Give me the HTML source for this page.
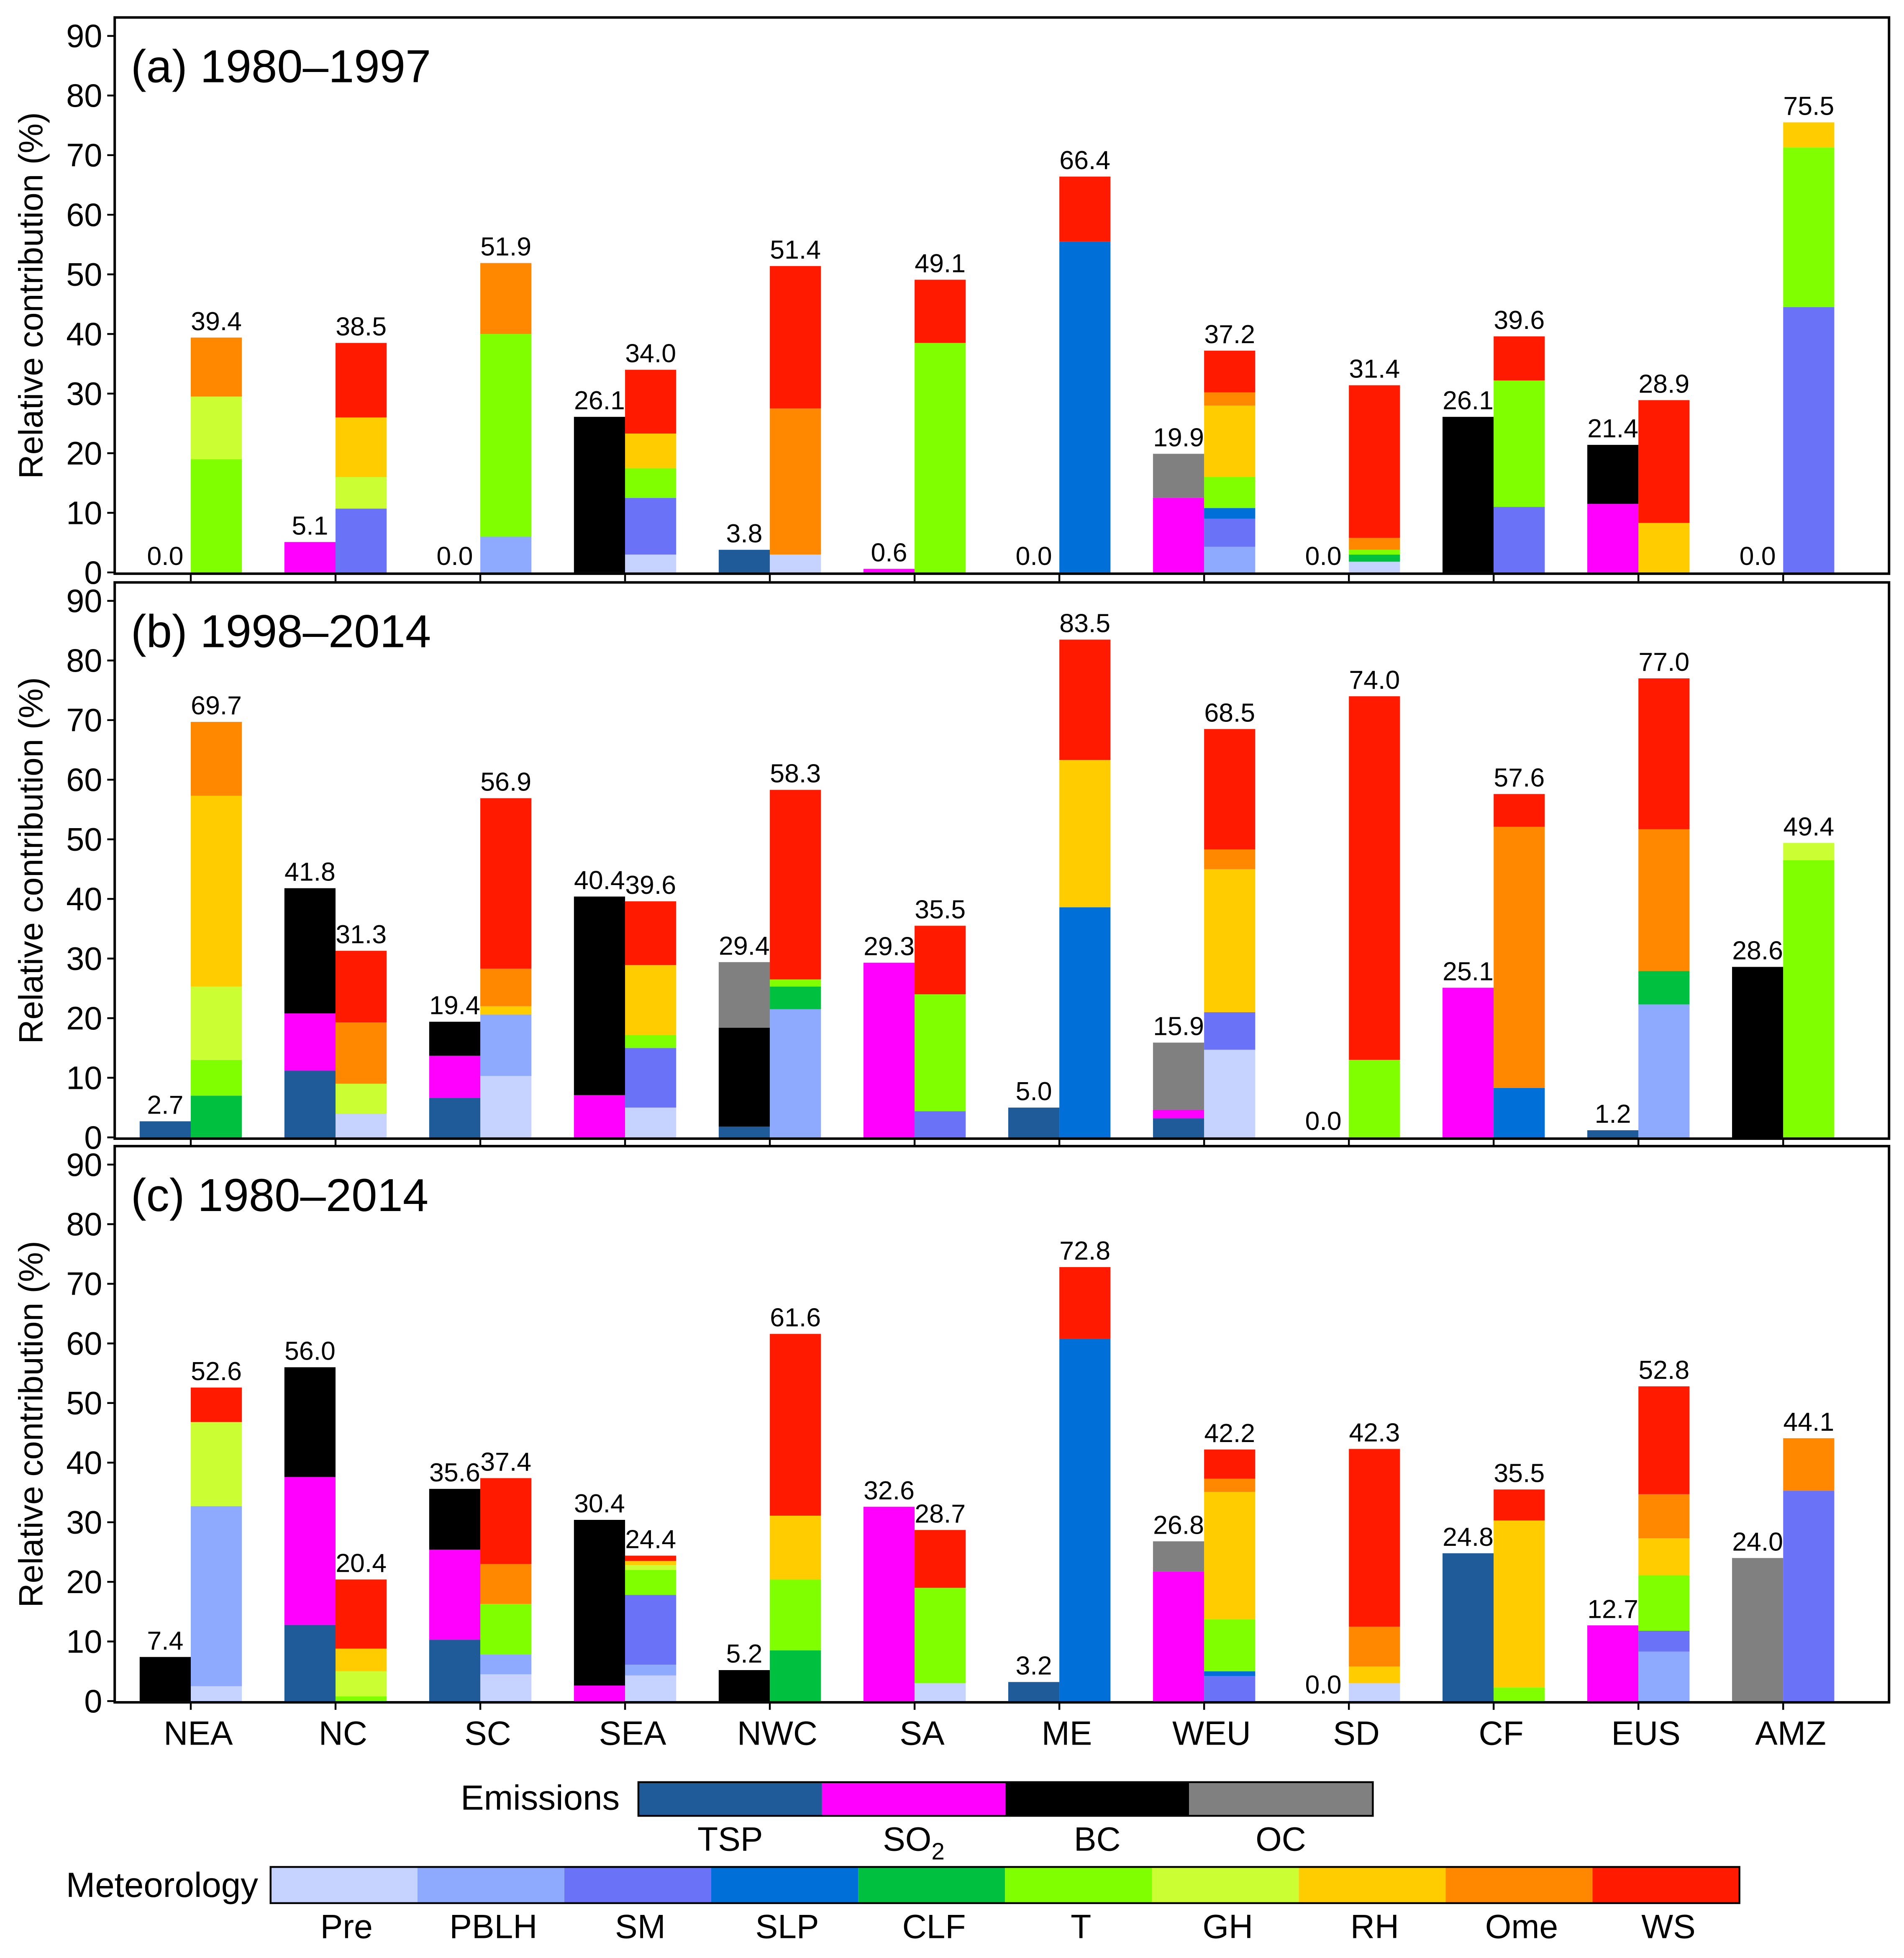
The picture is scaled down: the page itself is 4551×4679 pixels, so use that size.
<!DOCTYPE html>
<html><head><meta charset="utf-8"><style>
html,body{margin:0;padding:0;background:#fff;}
svg{display:block;font-family:"Liberation Sans",Arial,sans-serif;}
</style></head><body>
<svg id="chart" width="4551" height="4679" viewBox="0 0 1527 1570" preserveAspectRatio="none" xmlns="http://www.w3.org/2000/svg">
<rect x="0" y="0" width="1527" height="1570" fill="#fff"/>
</svg>
<script>
const regions = ["NEA","NC","SC","SEA","NWC","SA","ME","WEU","SD","CF","EUS","AMZ"];
const panelTitles = ["(a) 1980\u20131997","(b) 1998\u20132014","(c) 1980\u20132014"];
const yTicks = [0,10,20,30,40,50,60,70,80,90];
const emisNames = ["TSP","SO2","BC","OC"];
const metNames = ["Pre","PBLH","SM","SLP","CLF","T","GH","RH","Ome","WS"];
const emisColors = ["#1f5a99","#ff00ff","#000000","#808080"];
const metColors = ["#c6d2ff","#8eaaff","#6a72f8","#0070d8","#00c040","#80ff00","#ccff33","#ffcc00","#ff8800","#ff1a00"];

// Panel A (1980-1997)
const aTSP = [0,0,0,0,3.8,0,0,0,0,0,0,0];
const aSO2 = [0,5.1,0,0,0,0.6,0,12.5,0,0,11.5,0];
const aBC  = [0,0,0,26.1,0,0,0,0,0,26.1,9.9,0];
const aOC  = [0,0,0,0,0,0,0,7.4,0,0,0,0];
const aPre = [0,0,0,3,3,0,0,0,1.8,0,0,0];
const aPBLH= [0,0,6,0,0,0,0,4.3,0,0,0,0];
const aSM  = [0,10.7,0,9.5,0,0,0,4.7,0,11,0,44.5];
const aSLP = [0,0,0,0,0,0,55.5,1.8,0,0,0,0];
const aCLF = [0,0,0,0,0,0,0,0,1.2,0,0,0];
const aT   = [19,0,34,5,0,38.5,0,5.2,0.8,21.2,0,26.8];
const aGH  = [10.5,5.3,0,0,0,0,0,0,0,0,0,0];
const aRH  = [0,10,0,5.8,0,0,0,12,0,0,8.3,4.2];
const aOme = [9.9,0,11.9,0,24.5,0,0,2.2,2,0,0,0];
const aWS  = [0,12.5,0,10.7,23.9,10.6,10.9,7,25.6,7.4,20.6,0];
// Panel B (1998-2014)
const bTSP = [2.7,11.2,6.6,0,1.8,0,5.0,3.2,0,0,1.2,0];
const bSO2 = [0,9.6,7.1,7.1,0,29.3,0,1.4,0,25.1,0,0];
const bBC  = [0,21,5.7,33.3,16.6,0,0,0,0,0,0,28.6];
const bOC  = [0,0,0,0,11,0,0,11.3,0,0,0,0];
const bPre = [0,4,10.3,5,0,0,0,14.7,0,0,0,0];
const bPBLH= [0,0,10.3,0,21.5,0,0,0,0,0,22.3,0];
const bSM  = [0,0,0,10,0,4.4,0,6.3,0,0,0,0];
const bSLP = [0,0,0,0,0,0,38.6,0,0,8.3,0,0];
const bCLF = [7,0,0,0,3.8,0,0,0,0,0,5.6,0];
const bT   = [6,0,0,2.2,1.2,19.6,0,0,13,0,0,46.5];
const bGH  = [12.3,5,0,0,0,0,0,0,0,0,0,2.9];
const bRH  = [32,0,1.4,11.7,0,0,24.7,24,0,0,0,0];
const bOme = [12.4,10.3,6.3,0,0,0,0,3.3,0,43.8,23.8,0];
const bWS  = [0,12,28.6,10.7,31.8,11.5,20.2,20.2,61,5.5,25.3,0];
// Panel C (1980-2014)
const cTSP = [0,12.8,10.3,0,0,0,3.2,0,0,24.8,0,0];
const cSO2 = [0,24.8,15.1,2.6,0,32.6,0,21.7,0,0,12.7,0];
const cBC  = [7.4,18.4,10.2,27.8,5.2,0,0,0,0,0,0,0];
const cOC  = [0,0,0,0,0,0,0,5.1,0,0,0,24];
const cPre = [2.5,0,4.5,4.3,0,3,0,0,3,0,0,0];
const cPBLH= [30.2,0,3.3,1.8,0,0,0,0,0,0,8.3,0];
const cSM  = [0,0,0,11.7,0,0,0,4.2,0,0,3.5,35.3];
const cSLP = [0,0,0,0,0,0,60.8,0.8,0,0,0,0];
const cCLF = [0,0,0,0,8.5,0,0,0,0,0,0,0];
const cT   = [0,0.8,8.5,4.2,11.9,16,0,8.7,0,2.3,9.3,0];
const cGH  = [14.1,4.2,0,0.8,0,0,0,0,0,0,0,0];
const cRH  = [0,3.8,0,0.7,10.7,0,0,21.4,2.8,28,6.2,0];
const cOme = [0,0,6.7,0,0,0,0,2.2,6.7,0,7.4,8.8];
const cWS  = [5.8,11.6,14.4,0.9,30.5,9.7,12,4.9,29.8,5.2,18.1,0];

const panels = [
  {emis:[aTSP,aSO2,aBC,aOC], met:[aPre,aPBLH,aSM,aSLP,aCLF,aT,aGH,aRH,aOme,aWS], top:14},
  {emis:[bTSP,bSO2,bBC,bOC], met:[bPre,bPBLH,bSM,bSLP,bCLF,bT,bGH,bRH,bOme,bWS], top:467},
  {emis:[cTSP,cSO2,cBC,cOC], met:[cPre,cPBLH,cSM,cSLP,cCLF,cT,cGH,cRH,cOme,cWS], top:919}
];

const NS = "http://www.w3.org/2000/svg";
const svg = document.getElementById("chart");
function mk(tag, attrs, parent){
  const e = document.createElementNS(NS, tag);
  for (const k in attrs) e.setAttribute(k, attrs[k]);
  (parent||svg).appendChild(e);
  return e;
}
const left = 92, right = 1515, panelH = 446, barW = 41;
const unit = 4.78;
function xCenter(i){ return 153 + 116.1*i; }

panels.forEach((p, pi) => {
  const g = mk("g", {});
  
  
  const y0 = p.top + panelH - 1;
  const yScale = v => y0 - v*unit;
  regions.forEach((r, i) => {
    const xc = xCenter(i);
    [[p.emis, emisColors, emisNames, xc - barW, 'emissions'], [p.met, metColors, metNames, xc, 'meteorology']].forEach(([arrs, cols, names, bx, kind]) => {
      let acc = 0;
      arrs.forEach((arr, k) => {
        const v = arr[i];
        if (v > 0) {
          const rc = mk("rect", {x: bx, y: yScale(acc+v), width: barW, height: v*unit, fill: cols[k]}, g);
          
          
        }
        acc += v;
      });
      const t = mk("text", {x: bx + barW/2, y: yScale(acc) - 6, "text-anchor":"middle", "font-size": 21, fill:"#000"}, g);
      t.textContent = acc.toFixed(1);
      
      
    });
  });
  const fr = mk("rect", {x:left, y:p.top, width:right-left, height:panelH, fill:"none", stroke:"#000", "stroke-width":2}, g);
  
  
  yTicks.forEach(v => {
    const y = yScale(v);
    mk("line", {x1:left-6, x2:left, y1:y, y2:y, stroke:"#000", "stroke-width":1.5}, g);
    const t = mk("text", {x:left-10, y:y+9, "text-anchor":"end", "font-size":26}, g);
    t.textContent = v;
    
    
  });
  regions.forEach((r,i)=>{
    mk("line", {x1:xCenter(i), x2:xCenter(i), y1:p.top+panelH, y2:p.top+panelH+6, stroke:"#000", "stroke-width":1.5}, g);
  });
  const yt = mk("text", {x:0, y:0, "text-anchor":"middle", "font-size":27, transform:`translate(34 ${p.top+panelH/2}) rotate(-90)`}, g);
  yt.textContent = "Relative contribution (%)";
  
  
  const tt = mk("text", {x:105, y:p.top+52, "font-size":37}, g);
  tt.textContent = panelTitles[pi];
  
  
});
regions.forEach((r,i)=>{
  const t = mk("text", {x:xCenter(i)+6, y:1399, "text-anchor":"middle", "font-size":27});
  t.textContent = r;
  
  
});
const le = mk("text", {x:497, y:1451, "text-anchor":"end", "font-size":28});
le.textContent = "Emissions";


emisNames.forEach((n,k)=>{
  const w = 147.2, x = 512 + k*w;
  const r = mk("rect", {x:x, y:1429, width:w, height:27, fill:emisColors[k]});
  
  
  const t = mk("text", {x:x+w/2, y:1484, "text-anchor":"middle", "font-size":27});
  if (n === "SO2") { t.innerHTML = 'SO<tspan font-size="19" dy="7">2</tspan>'; }
  else t.textContent = n;
  
  
});
mk("rect", {x:512, y:1429, width:589, height:27, fill:"none", stroke:"#000", "stroke-width":1.5});
const lm = mk("text", {x:207, y:1521, "text-anchor":"end", "font-size":28});
lm.textContent = "Meteorology";


metNames.forEach((n,k)=>{
  const w = 117.8, x = 217 + k*w;
  const r = mk("rect", {x:x, y:1497, width:w, height:29, fill:metColors[k]});
  
  
  const t = mk("text", {x:x+w/2+2, y:1554, "text-anchor":"middle", "font-size":27});
  t.textContent = n;
  
  
});
mk("rect", {x:217, y:1497, width:1178, height:29, fill:"none", stroke:"#000", "stroke-width":1.5});
</script>
</body></html>
